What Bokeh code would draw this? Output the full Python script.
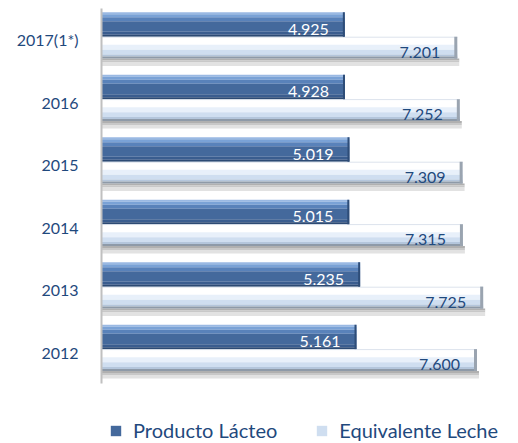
from bokeh.plotting import figure
from bokeh.models import FixedTicker, Legend, LegendItem, ColumnDataSource
from bokeh.core.properties import value
from bokeh.embed import file_html
from bokeh.resources import INLINE

# ---- data ----
categories = ["2012", "2013", "2014", "2015", "2016", "2017(1*)"]
producto_lacteo = [5.161, 5.235, 5.015, 5.019, 4.928, 4.925]
equivalente_leche = [7.600, 7.725, 7.315, 7.309, 7.252, 7.201]
series_names = ["Producto Lácteo", "Equivalente Leche"]

FONT = "Lato"
TXT_BLUE = "#1F497D"

p = figure(width=518, height=443,
           x_range=(0, 8.44), y_range=(-0.96, 6),
           output_backend="svg", toolbar_location=None,
           min_border_left=101, min_border_right=0, min_border_top=8, min_border_bottom=0)
p.outline_line_color = None
p.grid.visible = False
p.xaxis.visible = False
p.background_fill_color = "white"

centers = [i + 0.5 for i in range(len(categories))]

def fmt(v):
    return f"{v:.3f}"

dark_top, mid, light_bot, shadow_bot = 0.44, 0.05, -0.30, -0.42
u = 1 / 62.5  # one pixel in y units

shadow_stripes = [
    (light_bot, light_bot - 2 * u, "#b0b0b0"),
    (light_bot - 2 * u, light_bot - 4 * u, "#c8c8c8"),
    (light_bot - 4 * u, shadow_bot, "#e2e2e2"),
]
dark_stripes = [
    (dark_top, dark_top - 2 * u, "#9ab9e3"),
    (dark_top - 2 * u, dark_top - 5 * u, "#7aa2d6"),
    (dark_top - 5 * u, dark_top - 9 * u, "#5982ba"),
    (dark_top - 9 * u, mid + 5 * u, "#44699c"),
    (mid + 5 * u, mid + 2 * u, "#3a5d8f"),
    (mid + 2 * u, mid, "#2c4a74"),
]
light_stripes = [
    (mid, mid - 1 * u, "#d4dde8"),
    (mid - 1 * u, mid - 8 * u, "#ffffff"),
    (mid - 8 * u, mid - 13 * u, "#e8f0fa"),
    (mid - 13 * u, light_bot + 4 * u, "#cfdef0"),
    (light_bot + 4 * u, light_bot + 2 * u, "#b4c6dc"),
    (light_bot + 2 * u, light_bot, "#8e9aa8"),
]

def draw(stripes, vals, dx=0.0):
    rs = []
    for top, bot, col in stripes:
        src = ColumnDataSource(dict(
            y=[c + (top + bot) / 2 for c in centers],
            right=[v + dx for v in vals]))
        r = p.hbar(y="y", left=0, right="right", height=abs(top - bot), source=src,
                   fill_color=col, line_color=None)
        rs.append(r)
    return rs

draw(shadow_stripes, equivalente_leche, dx=0.04)
dark_r = draw(dark_stripes, producto_lacteo)
light_r = draw(light_stripes, equivalente_leche)

# right-end bevel edges
p.segment(x0=[v - 0.02 for v in producto_lacteo], x1=[v - 0.02 for v in producto_lacteo],
          y0=[c + mid for c in centers], y1=[c + dark_top for c in centers],
          line_color="#2e4d78", line_width=2)
p.segment(x0=[v - 0.03 for v in equivalente_leche], x1=[v - 0.03 for v in equivalente_leche],
          y0=[c + light_bot for c in centers], y1=[c + mid for c in centers],
          line_color="#9aa4b0", line_width=3)

# value labels
p.text(x=producto_lacteo, y=[c + mid for c in centers], text=[fmt(v) for v in producto_lacteo],
       x_offset=-16, y_offset=-2, text_align="right", text_baseline="bottom",
       text_font=value(FONT), text_font_size="16px", text_color="white")
p.text(x=equivalente_leche, y=[c + light_bot for c in centers], text=[fmt(v) for v in equivalente_leche],
       x_offset=-17, y_offset=-1, text_align="right", text_baseline="bottom",
       text_font=value(FONT), text_font_size="16px", text_color=TXT_BLUE)

# y axis
ax = p.yaxis[0]
ax.ticker = FixedTicker(ticks=centers)
ax.major_label_overrides = {c: lab for c, lab in zip(centers, categories)}
ax.bounds = (0, 6)
ax.major_tick_line_color = None
ax.minor_tick_line_color = None
ax.axis_line_color = "#c0c0c0"
ax.axis_line_width = 2
ax.major_label_standoff = 17
ax.major_label_text_font = FONT
ax.major_label_text_font_size = "16px"
ax.major_label_text_color = TXT_BLUE

legend = Legend(items=[LegendItem(label=series_names[0], renderers=[dark_r[3]]),
                       LegendItem(label=series_names[1], renderers=[light_r[3]])],
                orientation="horizontal", location=(8, 1))
legend.border_line_color = None
legend.background_fill_alpha = 0
legend.padding = 0
legend.margin = 0
legend.spacing = 38
legend.glyph_width = 13
legend.glyph_height = 13
legend.label_standoff = 11
legend.label_text_font = FONT
legend.label_text_font_size = "20px"
legend.label_text_color = TXT_BLUE
legend.label_height = 22
p.add_layout(legend, "center")

open("out.html", "w").write(file_html(p, INLINE))
